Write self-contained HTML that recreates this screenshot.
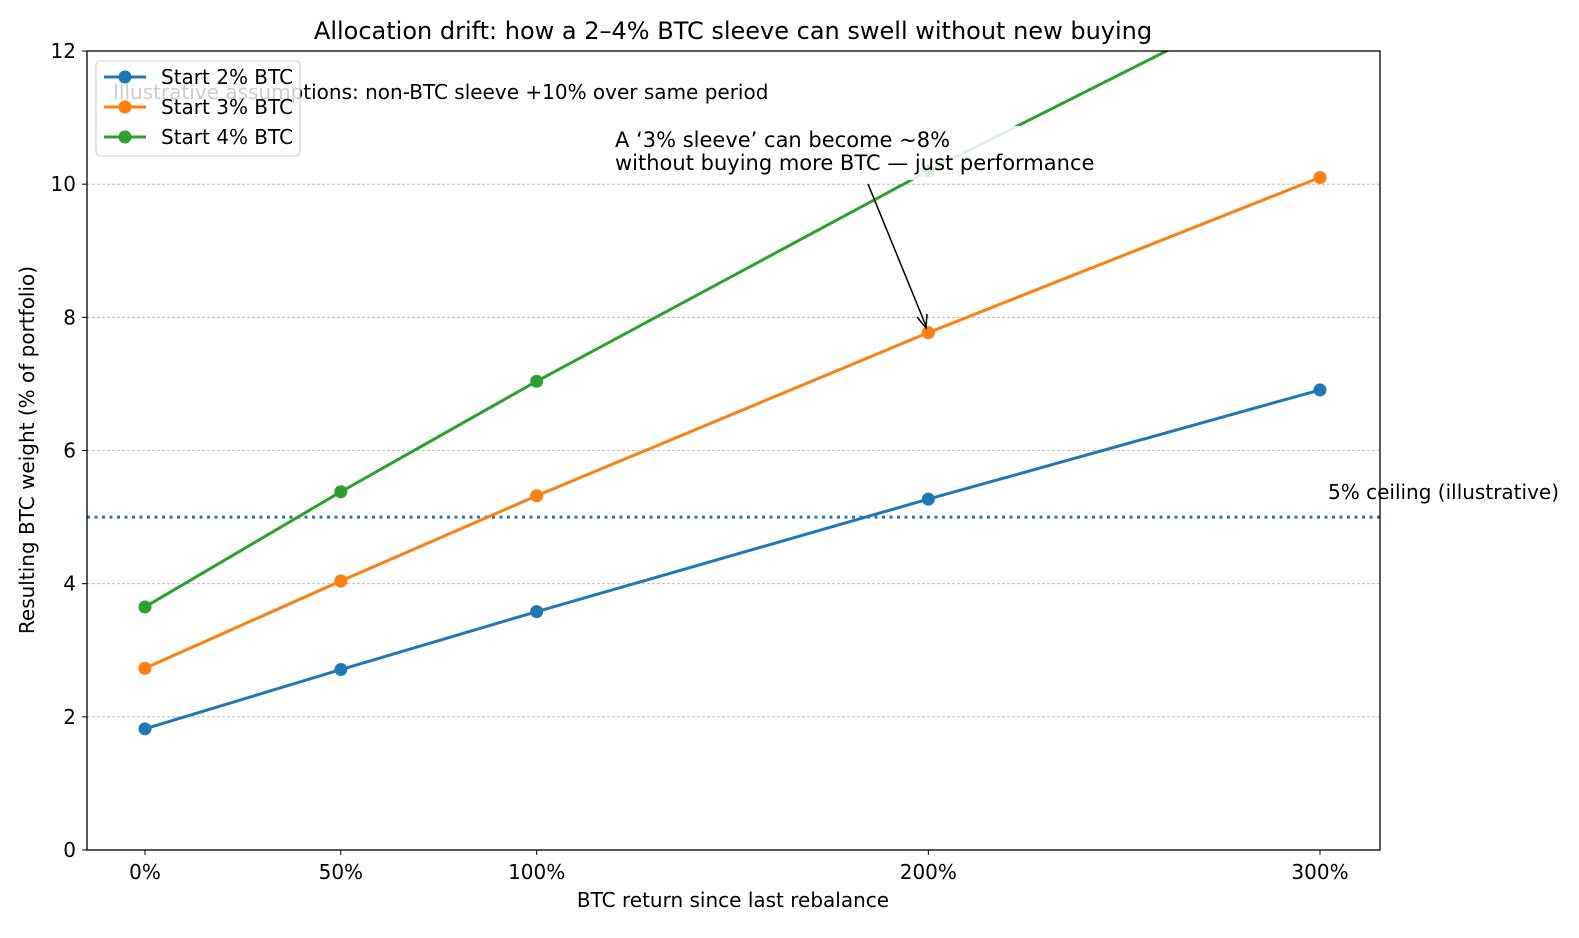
<!DOCTYPE html>
<html><head><meta charset="utf-8"><style>
body{margin:0;background:#fff}
svg{display:block;font-family:"DejaVu Sans","Liberation Sans",sans-serif}
</style></head><body>
<svg id="chart" width="1579" height="938" viewBox="0 0 1579 938" xmlns="http://www.w3.org/2000/svg">
<rect width="1579" height="938" fill="#fff"/>
<text x="733" y="39" font-size="24" text-anchor="middle" fill="#000">Allocation drift: how a 2–4% BTC sleeve can swell without new buying</text>
<defs><clipPath id="pa"><rect x="87" y="51" width="1293" height="799"/></clipPath></defs>
<g id="grid"></g>
<g id="marks" clip-path="url(#pa)"></g>
<rect x="87" y="51" width="1293" height="799" fill="none" stroke="#000" stroke-width="1.3"/>
<g id="axes"></g>
<text x="733" y="907" font-size="20" text-anchor="middle">BTC return since last rebalance</text>
<text transform="translate(34,450) rotate(-90)" font-size="20" text-anchor="middle">Resulting BTC weight (% of portfolio)</text>
<text x="1328" y="499" font-size="20">5% ceiling (illustrative)</text>
<text x="113" y="99" font-size="20">Illustrative assumptions: non-BTC sleeve +10% over same period</text>
<g>
<rect x="612" y="126" width="488" height="54" fill="#fff" opacity="0.85"/>
<text x="615" y="147" font-size="21">A ‘3% sleeve’ can become ~8%</text>
<text x="615" y="170" font-size="21">without buying more BTC — just performance</text>
<line x1="868" y1="184" x2="926" y2="326" stroke="#000" stroke-width="1.5"/>
<path d="M917 317 L926 328 L927 314" fill="none" stroke="#000" stroke-width="1.5"/>
</g>
<g id="legend">
<rect x="96" y="61" width="204" height="95" rx="4" fill="#fff" fill-opacity="0.8" stroke="#ccc"/>
</g>
</svg>
<script>
const categories=["0%","50%","100%","200%","300%"];
const returns=[0,50,100,200,300];
const start2=[1.82,2.71,3.58,5.27,6.91];
const start3=[2.73,4.04,5.32,7.77,10.1];
const start4=[3.65,5.38,7.04,10.2,13.16];
const yTicks=[0,2,4,6,8,10,12];
const ceiling=5;
const seriesNames=["Start 2% BTC","Start 3% BTC","Start 4% BTC"];
const NS="http://www.w3.org/2000/svg";
const xs=v=>145+v*(1320-145)/300;
const ys=v=>850-v*(799/12);
function mk(tag,attrs,parent){const e=document.createElementNS(NS,tag);for(const k in attrs)e.setAttribute(k,attrs[k]);parent.appendChild(e);return e;}
const grid=document.getElementById('grid'),marks=document.getElementById('marks'),axes=document.getElementById('axes'),legend=document.getElementById('legend');
yTicks.forEach(t=>{
 if(t>0&&t<12){const g=mk('line',{x1:87,x2:1380,y1:ys(t),y2:ys(t),stroke:'#b0b0b0','stroke-width':0.8,'stroke-dasharray':'3,2'},grid);
 
 }
 const tk=mk('line',{x1:82,x2:87,y1:ys(t),y2:ys(t),stroke:'#000'},axes);
 
 
 const tl=mk('text',{x:76,y:ys(t)+7,'font-size':20,'text-anchor':'end'},axes);tl.textContent=t;
 
 
});
returns.forEach((r,i)=>{
 const tk=mk('line',{x1:xs(r),x2:xs(r),y1:850,y2:855,stroke:'#000'},axes);
 
 
 const tl=mk('text',{x:xs(r),y:879,'font-size':20,'text-anchor':'middle'},axes);tl.textContent=categories[i];
 
 
});
const cl=mk('line',{x1:87,x2:1380,y1:ys(ceiling),y2:ys(ceiling),stroke:'#1f77b4','stroke-width':3,'stroke-dasharray':'3,4.5'},marks);


const colors=['#1f77b4','#ff7f0e','#2ca02c'];
[start2,start3,start4].forEach((s,k)=>{
 const pl=mk('polyline',{points:s.map((v,i)=>xs(returns[i])+','+ys(v)).join(' '),fill:'none',stroke:colors[k],'stroke-width':3},marks);
 
 
 s.forEach((v,i)=>{const c=mk('circle',{cx:xs(returns[i]),cy:ys(v),r:6.5,fill:colors[k]},marks);
 
 });
 const ly=77+k*30;
 const ll=mk('line',{x1:104,x2:146,y1:ly,y2:ly,stroke:colors[k],'stroke-width':3},legend);
 
 
 const lc=mk('circle',{cx:125,cy:ly,r:6.5,fill:colors[k]},legend);
 
 
 const lt=mk('text',{x:161,y:ly+7,'font-size':20},legend);lt.textContent=seriesNames[k];
 
 
});
</script>
</body></html>
